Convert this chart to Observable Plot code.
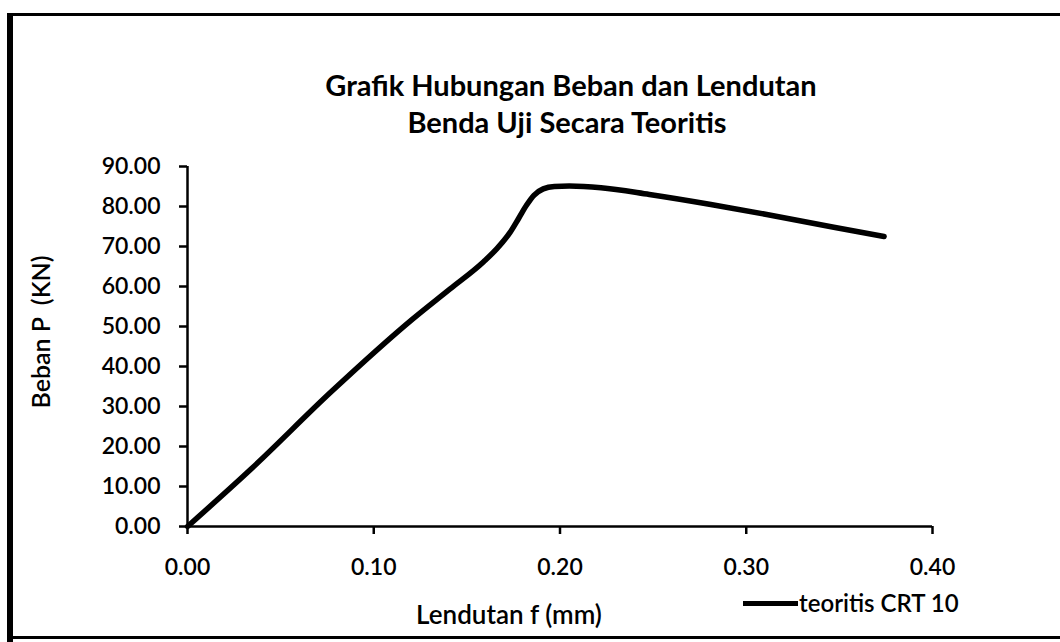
<!DOCTYPE html>
<html>
<head>
<meta charset="utf-8">
<script src="https://cdn.jsdelivr.net/npm/d3@7"></script>
<script src="https://cdn.jsdelivr.net/npm/@observablehq/plot@0.6"></script>
<style>
  html, body { margin: 0; padding: 0; background: #fff; }
  #wrap { position: relative; width: 1060px; height: 642px; overflow: hidden; font-family: Lato, "Open Sans", sans-serif; color: #000; }
  .bd { position: absolute; background: #000; }
  #chart { position: absolute; left: 0; top: 0; }
  .title { position: absolute; width: 1000px; text-align: center; font-weight: 700; font-size: 29px; line-height: 1; transform: translate(-50%, -50%); white-space: nowrap; }
  #xlabel { position: absolute; left: 509px; top: 614px; font-size: 26px; font-weight: 600; transform: translate(-50%, -50%); white-space: nowrap; line-height: 1; }
  #ylabel { position: absolute; left: 40px; top: 332px; font-size: 25px; font-weight: 600; transform: translate(-50%, -50%) rotate(-90deg); white-space: nowrap; line-height: 1; }
  #legend { position: absolute; left: 743px; top: 603px; font-size: 24px; font-weight: 600; display: flex; align-items: center; transform: translateY(-50%); line-height: 1; white-space: nowrap; }
  #legend .sw { width: 55px; height: 5px; background: #000; margin-right: 1px; }
</style>
</head>
<body>
<div id="wrap">
  <div id="chart"></div>
  <div class="title" style="left:571px; top:84px">Grafik Hubungan Beban dan Lendutan</div>
  <div class="title" style="left:567px; top:121px">Benda Uji Secara Teoritis</div>
  <div id="xlabel">Lendutan f (mm)</div>
  <div id="ylabel">Beban P&nbsp;&nbsp;(KN)</div>
  <div id="legend"><span class="sw"></span><span>teoritis CRT 10</span></div>
  <div class="bd" style="left:7px; top:13px; width:1053px; height:3px"></div>
  <div class="bd" style="left:7px; top:13px; width:6px; height:629px"></div>
  <div class="bd" style="left:7px; top:636px; width:1053px; height:3px"></div>
</div>
<script>
const seriesName = "teoritis CRT 10";
const lendutan = [0, 0.034, 0.077, 0.121, 0.141, 0.159, 0.166, 0.173, 0.178, 0.182, 0.186, 0.191, 0.197, 0.205, 0.222, 0.248, 0.281, 0.311, 0.347, 0.374];
const beban    = [0, 14.3, 33.6, 51.9, 59.4, 66.2, 69.4, 73.4, 77.2, 80.3, 82.8, 84.4, 85.0, 85.1, 84.7, 83.0, 80.5, 78.0, 74.8, 72.5];
const xTicks = [0, 0.1, 0.2, 0.3, 0.4];
const yTicks = [0, 10, 20, 30, 40, 50, 60, 70, 80, 90];

const data = lendutan.map((x, i) => ({x, y: beban[i]}));

const chart = Plot.plot({
  width: 1060,
  height: 642,
  marginLeft: 187,
  marginRight: 128,
  marginTop: 166,
  marginBottom: 116,
  style: { fontFamily: "Lato, 'Open Sans', sans-serif", fontSize: "23px", fontWeight: 600, color: "#000", background: "transparent" },
  x: { domain: [0, 0.4], label: null },
  y: { domain: [0, 90], label: null },
  marks: [
    Plot.axisX({ ticks: xTicks, tickFormat: d3.format(".2f"), tickSize: 8, tickPadding: 24, label: null, strokeWidth: 2.5, fontSize: 23 }),
    Plot.axisY({ ticks: yTicks, tickFormat: d3.format(".2f"), tickSize: 8, tickPadding: 19, label: null, strokeWidth: 2.5, fontSize: 23 }),
    Plot.ruleY([0], { stroke: "#000", strokeWidth: 2.5 }),
    Plot.ruleX([0], { stroke: "#000", strokeWidth: 2.5 }),
    Plot.line(data, { x: "x", y: "y", stroke: "#000", strokeWidth: 5.5, curve: "monotone-x", strokeLinecap: "round", strokeLinejoin: "round" })
  ]
});
document.getElementById("chart").appendChild(chart);
</script>
</body>
</html>
